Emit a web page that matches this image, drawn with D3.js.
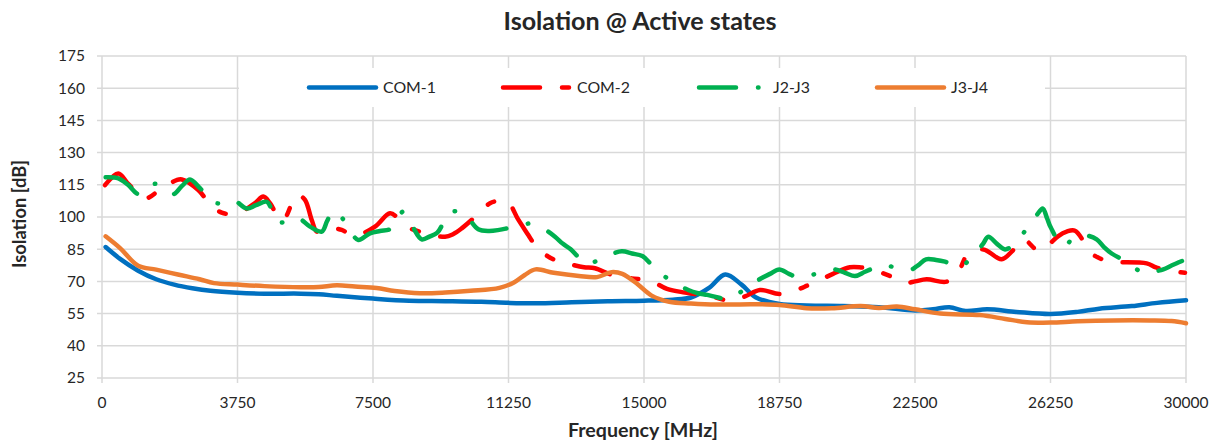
<!DOCTYPE html>
<html>
<head>
<meta charset="utf-8">
<style>
  body { margin: 0; background: #fff; }
  text { font-family: Lato, "Open Sans", sans-serif; fill: #262626; }
</style>
</head>
<body>
<svg id="chart" width="1216" height="444"></svg>
<script src="https://d3js.org/d3.v7.min.js"></script>
<script>

// ---- data (frequency in MHz, isolation in dB) ----
var seriesNames = ["COM-1", "COM-2", "J2-J3", "J3-J4"];
var seriesColors = ["#0070C0", "#FF0000", "#00B050", "#ED7D31"];

var xTicks = [0, 3750, 7500, 11250, 15000, 18750, 22500, 26250, 30000];
var yTicks = [25, 40, 55, 70, 85, 100, 115, 130, 145, 160, 175];

var com1Freq = [100, 500, 1000, 1500, 2000, 2500, 3000, 3750, 4500, 5500, 6000, 6500, 7500, 8500, 9500, 10500, 11250,
  12000, 13000, 14000, 15000, 15800, 16300, 16800, 17250, 17700, 18100, 18750, 19500, 20500, 21500, 22500, 23000,
  23450, 23900, 24500, 25300, 26250, 27000, 27600, 28500, 29200, 30000];
var com1Val = [86, 80.5, 75, 71, 68.5, 66.8, 65.6, 64.7, 64.3, 64.3, 64, 63.3, 62, 61, 60.8, 60.5, 60,
  59.8, 60.3, 60.8, 61, 61.5, 62.5, 67, 73.2, 68.5, 62.5, 59.5, 58.8, 58.5, 58, 56.5, 57,
  58, 56.2, 57, 55.8, 54.8, 55.8, 57.3, 58.5, 60, 61.2];

var com2Freq = [83, 451, 728, 1190, 1605, 2067, 2210, 2665, 2989, 3313, 3570, 3866, 4234, 4464, 4650, 4843, 5018,
  5341, 5433, 5618, 5804, 5942, 6089, 6263, 6634, 6863, 7140, 7555, 7970, 8192, 8433, 8940, 9493, 9714, 9955,
  10323, 10738, 10987, 11245, 11513, 11798, 11956, 12122, 12565, 13043, 13340, 13644, 14115, 14659, 15166, 15636,
  16134, 16439, 16735, 17380, 17795, 18210, 18764, 19270, 19511, 19780, 20231, 20701, 21006, 21302, 21808, 22270,
  22500, 22823, 23376, 23698, 23974, 24390, 24899, 25184, 25497, 25912, 26189, 26457, 26698, 26928, 27390, 27647,
  27896, 28912, 29170, 29466, 29972];
var com2Val = [114.8, 120.3, 115.4, 108.7, 112.7, 117.2, 117.5, 112.6, 106, 102, 101.5, 102.5, 106.5, 109.5, 106.4, 101, 98.6,
  109.5, 110.2, 108, 98.6, 93.2, 93.5, 94.7, 94, 92, 92, 95.5, 101.7, 99.5, 95.5, 92.5, 90.8, 92, 94.7,
  100, 106.4, 107.5, 106.7, 99, 91.6, 87.5, 84.3, 79.7, 77.6, 76.6, 76.1, 73, 71.4, 70.4, 66.5,
  64.8, 64, 63.7, 61, 63, 66, 64.1, 66.3, 68, 69.9, 73.5, 76.6, 76.5, 75.6, 72.5, 69.4,
  70, 71, 69.9, 74.5, 83, 84.9, 80.3, 84, 89.6, 84.3, 87, 91, 93.2, 93.6, 83, 80.5,
  79.2, 78.4, 76.5, 75.3, 74];

var j23Freq = [100, 451, 720, 1005, 1218, 1467, 1716, 1973, 2214, 2435, 2712, 2906, 3108, 3376, 3634, 4005, 4262, 4558,
  4705, 4835, 5037, 5250, 5433, 5757, 6080, 6227, 6385, 6559, 6725, 6891, 7093, 7417, 7694, 7970, 8164, 8330, 8579,
  8848, 9077, 9279, 9437, 9584, 9908, 10157, 10414, 10710, 10995, 11292, 11568, 11845, 12177, 12537, 12758, 12971,
  13173, 13413, 13920, 14383, 14668, 14953, 15166, 15351, 15775, 16226, 16494, 16752, 17048, 17333, 17795, 18210,
  18487, 18744, 19012, 19270, 19760, 20239, 20563, 20840, 21117, 21347, 21623, 21947, 22362, 22583, 22805, 23082,
  23331, 23746, 24208, 24382, 24529, 24770, 24991, 25268, 25702, 25876, 26034, 26153, 26255, 26604, 26928, 27205,
  27528, 27730, 27943, 28366, 28818, 29086, 29372, 29613, 29889];
var j23Val = [118.5, 118, 115, 110.6, 111.5, 115.5, 113, 110.6, 114.5, 117.5, 113.4, 110, 106.7, 106.5, 107.9, 104, 105.5, 107.1,
  103, 97.8, 97.5, 97.8, 99.4, 95.5, 93.2, 98, 102.8, 101, 97.8, 93, 89.3, 92.4, 93.5, 94.3, 98, 102.5, 96,
  89.6, 91, 92.7, 97, 101.7, 102.5, 99, 94.3, 93.5, 94, 95, 95.8, 97, 95, 90.8, 87.5, 85,
  81.5, 78.1, 81.5, 84, 83, 81.8, 78.5, 75.3, 70, 66, 64.5, 63.7, 62.5, 61.7, 66.5, 71.1,
  73.5, 75.6, 73.5, 71.9, 73.5, 75.6, 74, 72.5, 74.5, 76.1, 77.6, 76.5, 75.3, 77.5, 80.3, 80,
  79.2, 76.9, 83.9, 87.5, 90.8, 87.5, 84.9, 87.7, 97.3, 101, 104, 99.5, 95.2, 86.5, 90.8, 91.5,
  89.6, 86, 83, 79, 74, 74.5, 75.6, 77.5, 79.5];

var j34Freq = [100, 500, 1000, 1500, 2100, 2700, 3100, 3750, 4500, 5500, 6000, 6500, 7000, 7600, 8100, 8800, 9500, 10200,
  11000, 11400, 11700, 12000, 12500, 13200, 13700, 14100, 14400, 14800, 15200, 15700, 16300, 17000, 18000, 18750,
  19500, 20200, 21000, 21500, 22000, 22500, 23200, 24300, 25000, 25600, 26250, 27000, 28000, 29000, 29600, 30000];
var j34Val = [91, 85.5, 77.3, 75.5, 73.2, 71, 69.2, 68.5, 67.8, 67.3, 67.4, 68.2, 67.6, 66.9, 65.5, 64.5, 64.8, 65.6,
  67, 69.5, 73, 75.6, 74, 72.5, 72, 74.3, 73.5, 69, 63.5, 60.5, 59.7, 59.2, 59.4, 59,
  57.5, 57.5, 58.5, 57.6, 58.3, 57, 55, 54.3, 52.5, 51, 50.8, 51.4, 51.8, 51.8, 51.5, 50.5];

var seriesFreq = [com1Freq, com2Freq, j23Freq, j34Freq];
var seriesVal = [com1Val, com2Val, j23Val, j34Val];
var seriesDash = [null, "37,22,7,22", "37,22,0.5,22", null];

// ---- layout ----
var svg = d3.select("#chart"),
    margin = {top: 56, right: 30, bottom: 66, left: 102},
    width = +svg.attr("width") - margin.left - margin.right,
    height = +svg.attr("height") - margin.top - margin.bottom;

var x = d3.scaleLinear().domain([0, 30000]).range([margin.left, margin.left + width]);
var y = d3.scaleLinear().domain([25, 175]).range([margin.top + height, margin.top]);

var grid = "#d9d9d9";

// scale a text's font size so it spans the wanted width
function fitWidth(sel, target) {
  var w = sel.node().getComputedTextLength();
  var fs = parseFloat(sel.style("font-size"));
  var size = fs * target / w;
  sel.style("font-size", size + "px");
  return size;
}

// gridlines (with small outside ticks)
svg.append("g").selectAll("line").data(yTicks).join("line")
    .attr("x1", margin.left - 5).attr("x2", margin.left + width)
    .attr("y1", d => y(d)).attr("y2", d => y(d))
    .attr("stroke", grid).attr("stroke-width", 1.5);

svg.append("g").selectAll("line").data(xTicks).join("line")
    .attr("x1", d => x(d)).attr("x2", d => x(d))
    .attr("y1", margin.top).attr("y2", margin.top + height + 5)
    .attr("stroke", grid).attr("stroke-width", 1.5);

// tick labels
svg.append("g").selectAll("text").data(yTicks).join("text")
    .attr("x", margin.left - 17).attr("y", d => y(d))
    .attr("dy", "0.35em").attr("text-anchor", "end")
    .style("font-size", "15.5px").text(d => d);

svg.append("g").selectAll("text").data(xTicks).join("text")
    .attr("x", d => x(d)).attr("y", margin.top + height + 30)
    .attr("text-anchor", "middle")
    .style("font-size", "15.5px").text(d => d);

// titles
var title = svg.append("text").attr("x", 640).attr("y", 30).attr("text-anchor", "middle")
    .style("font-size", "19px").style("font-weight", "bold").text("Isolation @ Active states");
fitWidth(title, 273);

var xTitle = svg.append("text").attr("x", 643).attr("y", 437).attr("text-anchor", "middle")
    .style("font-size", "16px").style("font-weight", "bold").text("Frequency [MHz]");
fitWidth(xTitle, 150);

var yTitle = svg.append("text").attr("transform", "translate(26,214) rotate(-90)").attr("text-anchor", "middle")
    .style("font-size", "16px").style("font-weight", "bold").text("Isolation [dB]");
fitWidth(yTitle, 108);

// series
var line = d3.line()
    .x(d => x(d[0]))
    .y(d => y(d[1]))
    .curve(d3.curveCatmullRom.alpha(0.5));

seriesNames.forEach(function(name, i) {
  var pts = seriesFreq[i].map((f, k) => [f, seriesVal[i][k]]);
  svg.append("path")
      .datum(pts)
      .attr("fill", "none")
      .attr("stroke", seriesColors[i])
      .attr("stroke-width", 4.5)
      .attr("stroke-linecap", "round")
      .attr("stroke-linejoin", "round")
      .attr("stroke-dasharray", seriesDash[i])
      .attr("d", line);
});

// legend
var legend = svg.append("g");
legend.append("rect").attr("x", 239).attr("y", 68).attr("width", 806).attr("height", 39).attr("fill", "#fff");

var legendX = [307, 501, 697, 875];
var legendText = [];
seriesNames.forEach(function(name, i) {
  legend.append("line")
      .attr("x1", legendX[i] + 2).attr("x2", legendX[i] + 69)
      .attr("y1", 87.5).attr("y2", 87.5)
      .attr("stroke", seriesColors[i])
      .attr("stroke-width", 4.5)
      .attr("stroke-linecap", "round")
      .attr("stroke-dasharray", seriesDash[i]);
  legendText.push(legend.append("text")
      .attr("x", legendX[i] + 76).attr("y", 87.5).attr("dy", "0.35em")
      .style("font-size", "15.5px").text(name));
});
var legendSize = fitWidth(legendText[0], 53);
legendText.forEach(t => t.style("font-size", legendSize + "px"));

</script>
</body>
</html>
